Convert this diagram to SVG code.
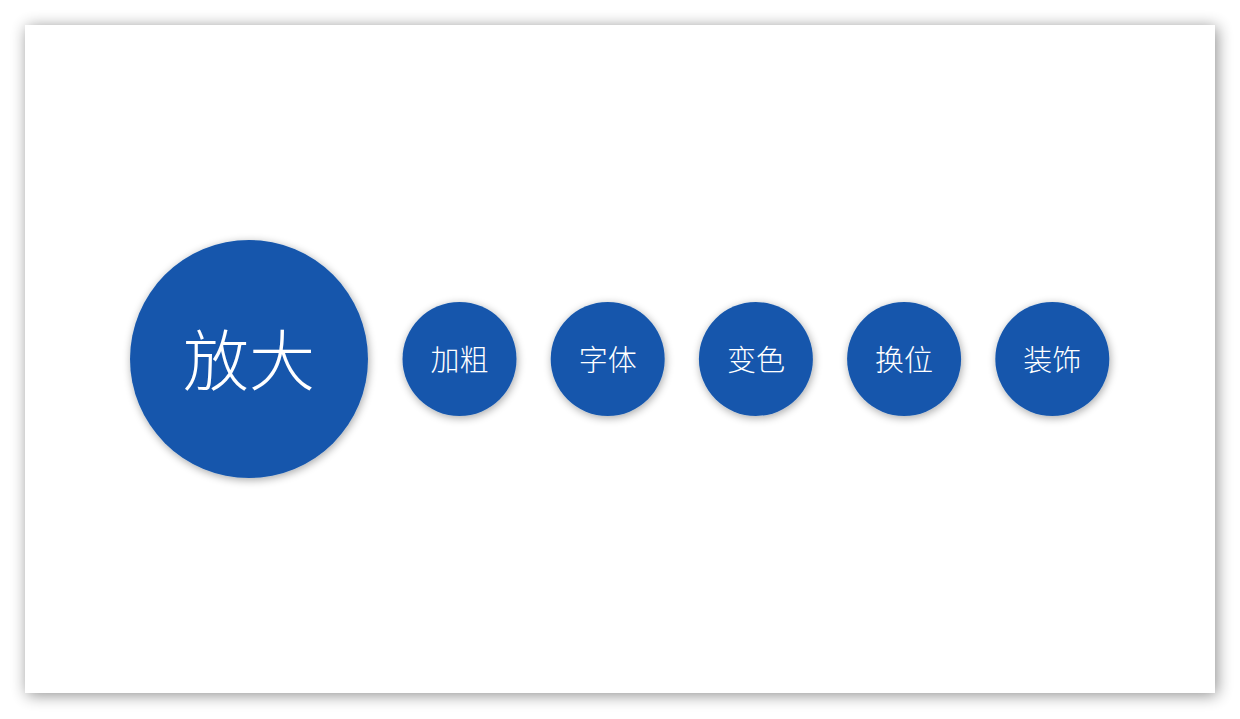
<svg xmlns="http://www.w3.org/2000/svg" width="1240" height="719" viewBox="0 0 1240 719">
<defs>
<filter id="slideShadow" x="-5%" y="-8%" width="110%" height="116%">
<feGaussianBlur in="SourceAlpha" stdDeviation="8"/>
<feOffset dx="2" dy="2" result="b"/>
<feComponentTransfer><feFuncA type="linear" slope="0.45"/></feComponentTransfer>
<feMerge><feMergeNode/><feMergeNode in="SourceGraphic"/></feMerge>
</filter>
<filter id="circShadow" x="-25%" y="-25%" width="150%" height="150%">
<feGaussianBlur in="SourceAlpha" stdDeviation="4"/>
<feOffset dx="1" dy="2" result="b"/>
<feComponentTransfer><feFuncA type="linear" slope="0.35"/></feComponentTransfer>
<feMerge><feMergeNode/><feMergeNode in="SourceGraphic"/></feMerge>
</filter>
</defs>
<style>
.c{fill:#1657AC;filter:url(#circShadow);}
.t{fill:#ffffff;font-family:"Noto Sans CJK SC","Microsoft YaHei",sans-serif;font-weight:300;text-anchor:middle;dominant-baseline:central;}
.big{font-size:66px;}
.small{font-size:29px;}
</style>
<rect x="0" y="0" width="1240" height="719" fill="#ffffff"/>
<rect x="25" y="25" width="1190" height="668" fill="#ffffff" filter="url(#slideShadow)"/>
<g id="connectors"></g>
<g id="node-fangda">
<circle class="c" cx="249" cy="359" r="119"/>
<text class="t big" x="249" y="356">放大</text>
</g>
<g id="node-jiacu">
<circle class="c" cx="459.5" cy="359" r="57"/>
<text class="t small" x="459.5" y="358">加粗</text>
</g>
<g id="node-ziti">
<circle class="c" cx="607.7" cy="359" r="57"/>
<text class="t small" x="607.7" y="358">字体</text>
</g>
<g id="node-bianse">
<circle class="c" cx="755.9" cy="359" r="57"/>
<text class="t small" x="755.9" y="358">变色</text>
</g>
<g id="node-huanwei">
<circle class="c" cx="904.1" cy="359" r="57"/>
<text class="t small" x="904.1" y="358">换位</text>
</g>
<g id="node-zhuangshi">
<circle class="c" cx="1052.3" cy="359" r="57"/>
<text class="t small" x="1052.3" y="358">装饰</text>
</g>
</svg>
